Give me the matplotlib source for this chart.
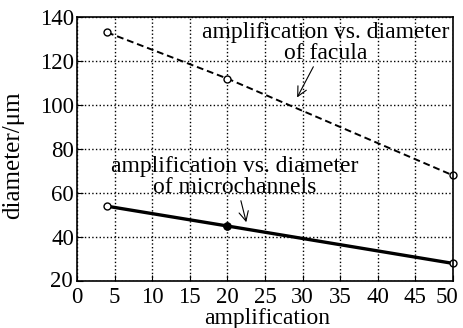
import numpy as np
import matplotlib.pyplot as plt
from matplotlib.transforms import ScaledTranslation

plt.rcParams['font.family'] = ['Liberation Serif', 'DejaVu Serif']
plt.rcParams['mathtext.fontset'] = 'stix'

amp = [4, 20, 50]
d_facula = [133, 112, 68]
d_micro = [54, 45, 28]

fig = plt.figure(figsize=(4.63, 3.28), dpi=100)
ax = fig.add_axes([77/463, 1 - 281/328, 376/463, 264/328])

ax.plot(amp, d_facula, 'k--', lw=1.4, dashes=(3.5, 2), marker='o', ms=5,
        mfc='white', mec='k', mew=1, clip_on=False)
ax.plot(amp, d_micro, 'k-', lw=2.4, marker='o', ms=5, mfc='white', mec='k', mew=1,
        clip_on=False)
ax.plot(amp[1], d_micro[1], 'ko', ms=5)

ax.set_xlim(0, 50)
ax.set_ylim(20, 140)
ax.set_xticks(np.arange(0, 51, 5))
ax.set_yticks(np.arange(20, 141, 20))
ax.grid(True, color='k', ls=':', lw=1)
ax.tick_params(direction='in', labelsize=16.5, length=4)
ax.tick_params(axis='x', pad=4)
ax.tick_params(axis='y', pad=2)
for s in ax.spines.values():
    s.set_linewidth(1.2)

fig.canvas.draw()
lab = ax.get_xticklabels()[-1]
lab.set_transform(lab.get_transform() + ScaledTranslation(-6/100, 0, fig.dpi_scale_trans))
lab = ax.get_yticklabels()[0]
lab.set_transform(lab.get_transform() + ScaledTranslation(-1/100, 2/100, fig.dpi_scale_trans))

ax.set_xlabel('amplification', fontsize=17)
ax.set_ylabel('diameter/\u03bcm', fontsize=18)
ax.xaxis.set_label_coords(0.505, -0.104)
ax.yaxis.set_label_coords(-0.14, 0.477)

ax.annotate('amplification vs. diameter\nof facula', xy=(29.1, 102.3),
            xytext=(33.1, 128.2), ha='center', va='center', fontsize=17,
            linespacing=1.0,
            arrowprops=dict(arrowstyle='->', color='k', lw=0.8, shrinkA=0))
ax.annotate('amplification vs. diameter\nof microchannels', xy=(22.6, 45.5),
            xytext=(21, 67.3), ha='center', va='center', fontsize=17,
            linespacing=1.0,
            arrowprops=dict(arrowstyle='->', color='k', lw=0.8, shrinkA=0))

fig.savefig('out.png', dpi=100)
